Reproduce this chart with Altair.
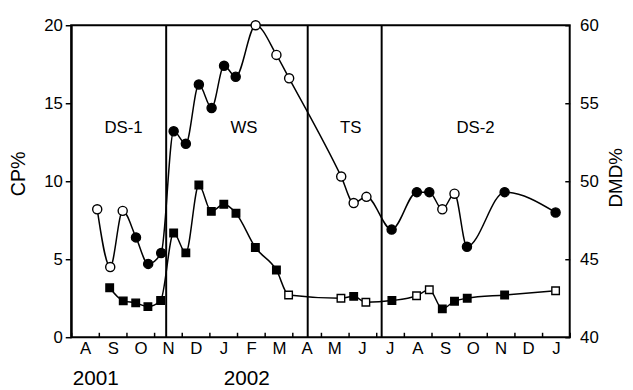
import altair as alt
import pandas as pd

# ---- data ----
months = ["A", "S", "O", "N", "D", "J", "F", "M", "A", "M", "J", "J", "A", "S", "O", "N", "D", "J"]

# DMD% (circles, right axis); x = months since 1 Aug 2001
dmd_x = [0.94, 1.41, 1.86, 2.34, 2.78, 3.25, 3.70, 4.14, 4.61, 5.07, 5.52, 5.94, 6.66,
         7.41, 7.87, 9.75, 10.20, 10.66, 11.57, 12.48, 12.93, 13.40, 13.84, 14.29, 15.65, 17.49]
dmd_y = [48.2, 44.5, 48.1, 46.4, 44.7, 45.4, 53.2, 52.4, 56.2, 54.7, 57.4, 56.7, 60.0,
         58.1, 56.6, 50.3, 48.6, 49.0, 46.9, 49.3, 49.3, 48.2, 49.2, 45.8, 49.3, 48.0]
dmd_filled = [0, 0, 0, 1, 1, 1, 1, 1, 1, 1, 1, 1, 0,
              0, 0, 0, 0, 0, 1, 1, 1, 0, 0, 1, 1, 1]

# CP% (squares, left axis)
cp_x = [1.39, 1.88, 2.33, 2.77, 3.23, 3.70, 4.14, 4.61, 5.06, 5.51, 5.95, 6.65, 7.41,
        7.85, 9.74, 10.20, 10.64, 11.58, 12.47, 12.93, 13.40, 13.84, 14.30, 15.65, 17.49]
cp_y = [3.17, 2.33, 2.20, 1.96, 2.35, 6.68, 5.41, 9.76, 8.07, 8.52, 7.95, 5.75, 4.31,
        2.71, 2.50, 2.62, 2.24, 2.35, 2.66, 3.04, 1.82, 2.31, 2.50, 2.71, 2.98]
cp_filled = [1, 1, 1, 1, 1, 1, 1, 1, 1, 1, 1, 1, 1,
             0, 0, 1, 0, 1, 0, 0, 1, 1, 1, 1, 0]

season_names = ["DS-1", "WS", "TS", "DS-2"]
season_x = [1.89, 6.24, 10.09, 14.6]
season_y = [13.4, 13.4, 13.4, 13.4]
season_bounds = [3.43, 8.54, 11.21]

years = ["2001", "2002"]
year_x = [0.89, 6.34]

# ---- tables ----
dmd_df = pd.DataFrame({"x": dmd_x, "y": dmd_y, "filled": dmd_filled})
cp_df = pd.DataFrame({"x": cp_x, "y": cp_y, "filled": cp_filled})
season_df = pd.DataFrame({"x": season_x, "y": season_y, "name": season_names})
bounds_df = pd.DataFrame({"x": season_bounds})
year_df = pd.DataFrame({"x": year_x, "label": years})

W, H = 505, 316
FONT = "Liberation Sans"

month_arr = "[" + ",".join("'" + m + "'" for m in months) + "]"
x_axis = alt.Axis(
    values=[i * 0.5 for i in range(2 * len(months) + 1)],
    labelExpr="datum.value % 1 == 0 ? '' : " + month_arr + "[floor(datum.value)]",
    tickColor={"condition": {"test": "datum.value % 1 != 0", "value": "transparent"}, "value": "black"},
    tickSize=5, tickWidth=1.5, offset=-5, domain=False,
    labelFontSize=17, labelColor="black", labelFont=FONT, labelPadding=4,
    labelOverlap=False, labelFlush=False, title=None, grid=False,
)
x_scale = alt.Scale(domain=[0, 18], nice=False, zero=False)

cp_axis = alt.Axis(
    values=[0, 5, 10, 15, 20], tickSize=6, tickWidth=1.5, tickColor="black",
    domainColor="black", domainWidth=2, labelFontSize=17, labelColor="black",
    labelFont=FONT, labelPadding=3, grid=False,
    title="CP%", titleFont=FONT, titleFontSize=20, titleFontWeight="normal",
    titleColor="black", titleAngle=270, titleX=-53, titleY=150,
    titleAlign="center", titleBaseline="middle",
)
dmd_axis = alt.Axis(
    values=[40, 45, 50, 55, 60], orient="right", tickSize=5, tickWidth=1.5,
    tickColor="black", offset=-5, domain=False, labelFontSize=17, labelColor="black",
    labelFont=FONT, labelPadding=10, grid=False,
    title="DMD%", titleFont=FONT, titleFontSize=19, titleFontWeight="normal",
    titleColor="black", titleAngle=270, titleX=51, titleY=154,
    titleAlign="center", titleBaseline="middle",
)
cp_scale = alt.Scale(domain=[0, 20], nice=False, zero=False)
dmd_scale = alt.Scale(domain=[40, 60], nice=False, zero=False)
fill_scale = alt.Scale(domain=[0, 1], range=["white", "black"])

X = alt.X("x:Q", scale=x_scale, axis=x_axis)

rules = alt.Chart(bounds_df).mark_rule(color="black", strokeWidth=2).encode(x=X)

cp_line = alt.Chart(cp_df).mark_line(color="black", strokeWidth=1.5, interpolate="monotone").encode(
    x=X, y=alt.Y("y:Q", scale=cp_scale, axis=cp_axis))
cp_pts = alt.Chart(cp_df).mark_point(shape="square", size=58, stroke="black", strokeWidth=1.4,
                                     opacity=1, filled=False).encode(
    x=X, y=alt.Y("y:Q", scale=cp_scale, axis=cp_axis),
    fill=alt.Fill("filled:N", scale=fill_scale, legend=None))
season_txt = alt.Chart(season_df).mark_text(font=FONT, fontSize=17, color="black").encode(
    x=X, y=alt.Y("y:Q", scale=cp_scale, axis=cp_axis), text="name:N")
year_txt = alt.Chart(year_df).mark_text(font=FONT, fontSize=21, color="black", baseline="middle").encode(
    x=X, y=alt.value(H + 42), text="label:N")

dmd_line = alt.Chart(dmd_df).mark_line(color="black", strokeWidth=1.5, interpolate="monotone").encode(
    x=X, y=alt.Y("y:Q", scale=dmd_scale, axis=dmd_axis))
dmd_pts = alt.Chart(dmd_df).mark_point(shape="circle", size=85, stroke="black", strokeWidth=1.4,
                                       opacity=1, filled=False).encode(
    x=X, y=alt.Y("y:Q", scale=dmd_scale, axis=dmd_axis),
    fill=alt.Fill("filled:N", scale=fill_scale, legend=None))

cp_layer = alt.layer(rules, cp_line, season_txt, year_txt, cp_pts)
dmd_layer = alt.layer(dmd_line, dmd_pts)

chart = alt.layer(cp_layer, dmd_layer).resolve_scale(y="independent").properties(
    width=W, height=H,
    autosize=alt.AutoSizeParams(type="none"),
    padding={"left": 64, "top": 15, "right": 56, "bottom": 52},
    background="white",
).configure_view(stroke="black", strokeWidth=2)

chart.save("out.html", embed_options={"renderer": "svg", "actions": False})
